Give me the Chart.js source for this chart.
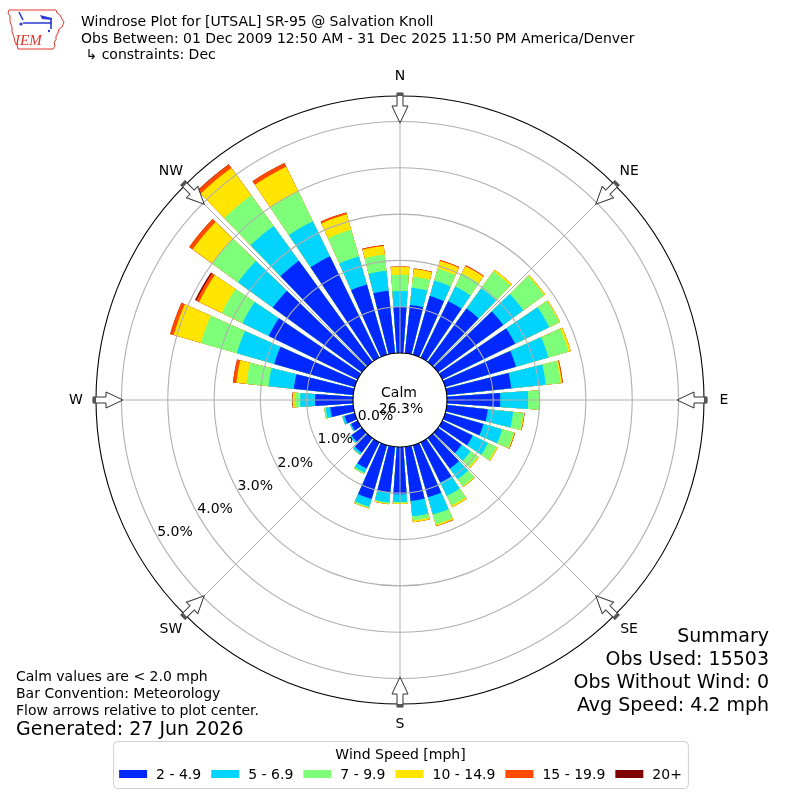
<!DOCTYPE html>
<html>
<head>
<meta charset="utf-8">
<title>Windrose Plot for [UTSAL] SR-95 @ Salvation Knoll</title>
<script src="https://cdn.jsdelivr.net/npm/chart.js@4.4.1/dist/chart.umd.min.js"></script>
<style>
  html, body { margin: 0; padding: 0; background: #fff; }
  canvas { display: block; }
</style>
</head>
<body>
<canvas id="windrose" width="800" height="800"></canvas>
<script>
// direction bins, degrees the wind blows from
const directions = [0, 10, 20, 30, 40, 50, 60, 70, 80, 90, 100, 110, 120, 130, 140, 150, 160, 170,
  180, 190, 200, 210, 220, 230, 240, 250, 260, 270, 280, 290, 300, 310, 320, 330, 340, 350];

const speedBins = ["2 - 4.9", "5 - 6.9", "7 - 9.9", "10 - 14.9", "15 - 19.9", "20+"];
const binColors = ["#0028ff", "#00d4ff", "#7dff7a", "#ffe500", "#ff4a00", "#800000"];

// percent of all obs, one value per direction
const freq2to5 = [1.00, 1.05, 1.32, 1.36, 1.43, 1.74, 1.75, 1.59, 1.40, 1.15, 0.89, 0.86, 0.73, 0.63, 0.82, 0.97, 1.17, 1.18,
  1.02, 0.99, 1.21, 0.63, 0.39, 0.28, 0.16, 0.23, 0.50, 0.82, 1.29, 1.81, 2.14, 2.38, 2.70, 2.44, 1.58, 1.36];
const freq5to7 = [0.34, 0.37, 0.35, 0.35, 0.54, 0.54, 0.82, 0.73, 0.75, 0.60, 0.55, 0.42, 0.37, 0.24, 0.28, 0.32, 0.39, 0.33,
  0.17, 0.22, 0.17, 0.10, 0.05, 0.04, 0.03, 0.05, 0.10, 0.32, 0.55, 0.84, 0.63, 0.93, 0.93, 0.84, 0.63, 0.43];
const freq7to10 = [0.35, 0.24, 0.27, 0.32, 0.45, 0.55, 0.24, 0.45, 0.32, 0.25, 0.22, 0.26, 0.20, 0.19, 0.19, 0.23, 0.22, 0.09,
  0.02, 0.02, 0.03, 0.03, 0.01, 0.00, 0.00, 0.00, 0.03, 0.12, 0.48, 0.81, 0.50, 0.69, 0.82, 0.71, 0.60, 0.35];
const freq10to15 = [0.17, 0.17, 0.17, 0.17, 0.04, 0.03, 0.02, 0.05, 0.03, 0.01, 0.02, 0.02, 0.03, 0.03, 0.02, 0.04, 0.03, 0.04,
  0.02, 0.02, 0.01, 0.00, 0.00, 0.00, 0.00, 0.00, 0.00, 0.04, 0.22, 0.61, 0.54, 0.52, 0.73, 0.60, 0.35, 0.19];
const freq15to20 = [0.01, 0.01, 0.02, 0.02, 0.00, 0.00, 0.00, 0.00, 0.02, 0.00, 0.01, 0.01, 0.00, 0.00, 0.00, 0.00, 0.01, 0.00,
  0.00, 0.00, 0.00, 0.00, 0.00, 0.00, 0.00, 0.00, 0.00, 0.01, 0.07, 0.08, 0.07, 0.09, 0.09, 0.09, 0.04, 0.02];
const freq20up = [0, 0, 0, 0, 0, 0, 0, 0, 0, 0, 0, 0, 0, 0, 0, 0, 0, 0,
  0, 0, 0, 0, 0, 0, 0, 0, 0, 0, 0, 0, 0.03, 0, 0.01, 0, 0, 0];

const ringTicks = [0, 1, 2, 3, 4, 5];
const compassPoints = ["N", "NE", "E", "SE", "S", "SW", "W", "NW"];
const calmPercent = 26.3;

const titleLines = [
  "Windrose Plot for [UTSAL] SR-95 @ Salvation Knoll",
  "Obs Between: 01 Dec 2009 12:50 AM - 31 Dec 2025 11:50 PM America/Denver",
  " \u21b3 constraints: Dec"
];
const noteLines = ["Calm values are < 2.0 mph", "Bar Convention: Meteorology", "Flow arrows relative to plot center."];
const generatedText = "Generated: 27 Jun 2026";
const summaryLines = ["Summary", "Obs Used: 15503", "Obs Without Wind: 0", "Avg Speed: 4.2 mph"];

const FONT = '"DejaVu Sans", sans-serif';
const BAR_DEG = 8, GAP_DEG = 2;
// 0 % sits on the calm circle, so the radial scale starts below zero
const R_MIN = -1.015, R_MAX = 5.55;

const bins = [freq2to5, freq5to7, freq7to10, freq10to15, freq15to20, freq20up];

// stacked by running totals; dataset 0 (the smallest total) is drawn last, on top
const datasets = speedBins.map((label, k) => ({
  label,
  data: directions.flatMap((d, i) => {
    let total = 0;
    for (let j = 0; j <= k; j++) total += bins[j][i];
    return [total, 0];
  }),
  backgroundColor: binColors[k],
  borderWidth: 0,
  angle: c => (c.dataIndex % 2 === 0 ? BAR_DEG : GAP_DEG)
}));

function pt(s, compassDeg, r) {
  const a = (compassDeg - 90) * Math.PI / 180;
  return [s.xCenter + Math.cos(a) * r, s.yCenter + Math.sin(a) * r];
}

function ringColor(c) {
  if (!c.tick) return "rgba(0,0,0,0)";
  const v = c.tick.value;
  if (v === 0 || v === R_MAX) return "#000";
  return ringTicks.includes(v) ? "#b0b0b0" : "rgba(0,0,0,0)";
}

function drawLogo(ctx) {
  ctx.save();
  ctx.strokeStyle = "#e0362c";
  ctx.lineWidth = 1;
  const outline = [[9,10],[56,10],[57,13],[60,15],[62,19],[64,22],[62,27],[59,29],[58,33],[56,36],[56,40],
    [54,42],[55,46],[53,49],[18,49],[17,45],[15,42],[14,37],[12,32],[12,27],[10,22],[10,16],[8,13]];
  ctx.beginPath();
  outline.forEach(([x, y], i) => (i ? ctx.lineTo(x, y) : ctx.moveTo(x, y)));
  ctx.closePath();
  ctx.stroke();
  ctx.strokeStyle = "#2a3bd6";
  ctx.fillStyle = "#2a3bd6";
  ctx.lineWidth = 1.6;
  ctx.beginPath();
  ctx.moveTo(19, 12); ctx.lineTo(23, 20);
  ctx.moveTo(23, 23); ctx.lineTo(52, 23);
  ctx.moveTo(51, 18); ctx.lineTo(51, 29);
  ctx.stroke();
  ctx.beginPath();
  ctx.moveTo(40, 15); ctx.lineTo(52, 18); ctx.lineTo(52, 20); ctx.lineTo(42, 19);
  ctx.closePath(); ctx.fill();
  ctx.beginPath(); ctx.arc(21, 24, 1.6, 0, Math.PI * 2); ctx.fill();
  ctx.beginPath(); ctx.arc(49, 31, 1.2, 0, Math.PI * 2); ctx.fill();
  ctx.fillStyle = "#e0362c";
  ctx.font = 'italic 15px "Liberation Serif", serif';
  ctx.textAlign = "left";
  ctx.textBaseline = "alphabetic";
  ctx.fillText("IEM", 15, 45);
  ctx.restore();
}

function drawArrow(ctx, s, compassDeg) {
  ctx.save();
  ctx.translate(s.xCenter, s.yCenter);
  ctx.rotate(compassDeg * Math.PI / 180);
  ctx.beginPath();
  ctx.moveTo(-3, -307); ctx.lineTo(3, -307); ctx.lineTo(3, -294); ctx.lineTo(8, -294);
  ctx.lineTo(0, -277); ctx.lineTo(-8, -294); ctx.lineTo(-3, -294);
  ctx.closePath();
  ctx.fillStyle = "#fff";
  ctx.fill();
  ctx.strokeStyle = "#333";
  ctx.lineWidth = 1;
  ctx.stroke();
  ctx.fillStyle = "#555";
  ctx.fillRect(-3, -307, 6, 3);
  ctx.restore();
}

const decor = {
  id: "decor",
  beforeDraw(chart) {
    const ctx = chart.ctx;
    ctx.save();
    ctx.fillStyle = "#fff";
    ctx.fillRect(0, 0, chart.width, chart.height);
    ctx.restore();
  },
  afterDatasetsDraw(chart) {
    const s = chart.scales.r, ctx = chart.ctx;
    const r0 = s.getDistanceFromCenterForValue(0);
    const r1 = s.getDistanceFromCenterForValue(s.max);
    ctx.save();
    ctx.strokeStyle = "#b0b0b0";
    ctx.lineWidth = 1;
    compassPoints.forEach((name, i) => {
      const [x0, y0] = pt(s, i * 45, r0);
      const [x1, y1] = pt(s, i * 45, r1);
      ctx.beginPath(); ctx.moveTo(x0, y0); ctx.lineTo(x1, y1); ctx.stroke();
    });
    ctx.fillStyle = "#fff";
    ctx.beginPath();
    ctx.arc(s.xCenter, s.yCenter, r0, 0, Math.PI * 2);
    ctx.fill();
    ctx.restore();
  },
  afterDraw(chart) {
    const s = chart.scales.r, ctx = chart.ctx;
    ctx.save();
    ctx.fillStyle = "#000";

    compassPoints.forEach((name, i) => drawArrow(ctx, s, i * 45));

    // compass labels
    ctx.font = "14px " + FONT;
    ctx.textAlign = "center";
    ctx.textBaseline = "middle";
    compassPoints.forEach((name, i) => {
      const [x, y] = pt(s, i * 45, 324);
      ctx.fillText(name, x, y);
    });

    // ring labels along the lower left
    const a = 150 * Math.PI / 180;
    ringTicks.forEach(v => {
      const r = s.getDistanceFromCenterForValue(v);
      ctx.fillText(v.toFixed(1) + "%", s.xCenter + Math.cos(a) * (r - 18.7), s.yCenter + Math.sin(a) * (r - 13.6));
    });

    // calm
    ctx.textBaseline = "alphabetic";
    ctx.fillText("Calm", s.xCenter - 1, 396.5);
    ctx.fillText(calmPercent.toFixed(1) + "%", s.xCenter + 1, 413);

    // header
    ctx.textAlign = "left";
    [25.5, 42.5, 59].forEach((y, i) => ctx.fillText(titleLines[i], 81, y));

    // notes
    [681, 698, 715].forEach((y, i) => ctx.fillText(noteLines[i], 16, y));
    ctx.font = "19px " + FONT;
    ctx.fillText(generatedText, 16, 735);

    ctx.textAlign = "right";
    [642, 665, 688, 711].forEach((y, i) => ctx.fillText(summaryLines[i], 769, y));

    // legend
    ctx.font = "14px " + FONT;
    const sw = 28, sh = 8, tp = 9, gap = 10;
    const widths = speedBins.map(t => ctx.measureText(t).width);
    const total = widths.reduce((acc, w) => acc + sw + tp + w, 0) + gap * (speedBins.length - 1);
    let x = 400.5 - total / 2;
    const bx0 = x - 6, bx1 = x + total + 6;
    ctx.beginPath();
    ctx.roundRect(bx0 + 0.5, 741.5, bx1 - bx0, 47, 4);
    ctx.fillStyle = "#fff";
    ctx.fill();
    ctx.strokeStyle = "#d0d0d0";
    ctx.lineWidth = 1;
    ctx.stroke();
    ctx.fillStyle = "#000";
    ctx.textAlign = "center";
    ctx.fillText("Wind Speed [mph]", (bx0 + bx1) / 2, 758.5);
    ctx.textAlign = "left";
    speedBins.forEach((t, k) => {
      ctx.fillStyle = binColors[k];
      ctx.fillRect(x, 770, sw, sh);
      ctx.fillStyle = "#000";
      ctx.fillText(t, x + sw + tp, 779);
      x += sw + tp + widths[k] + gap;
    });

    drawLogo(ctx);
    ctx.restore();
  }
};

Chart.defaults.font.family = FONT;

new Chart(document.getElementById("windrose"), {
  type: "polarArea",
  data: {
    labels: directions.flatMap(d => [d + "\u00b0", ""]),
    datasets
  },
  options: {
    responsive: false,
    animation: false,
    layout: { padding: 96 },
    plugins: {
      legend: { display: false },
      tooltip: { enabled: false }
    },
    scales: {
      r: {
        min: R_MIN,
        max: R_MAX,
        startAngle: -BAR_DEG / 2,
        ticks: { display: false },
        pointLabels: { display: false },
        angleLines: { display: false },
        grid: { z: 1, circular: true, color: ringColor, lineWidth: 1.1 },
        afterBuildTicks: sc => {
          sc.ticks = [sc.min, ...ringTicks, sc.max].map(value => ({ value }));
        }
      }
    }
  },
  plugins: [decor]
});
</script>
</body>
</html>
